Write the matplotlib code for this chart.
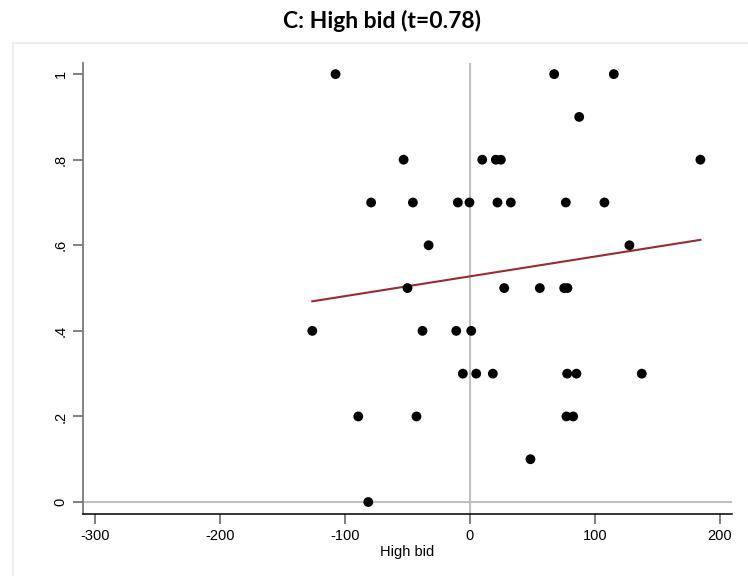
import numpy as np
import matplotlib
matplotlib.use("Agg")
import matplotlib.pyplot as plt
from matplotlib.patches import Rectangle

# High bid deviation vs. share outcome, one dot per session
high_bid = [-107.5, 67.5, 115.2,
            87.5,
            -53.0, 9.9, 20.8, 24.8, 184.5,
            -79.0, -45.6, -9.6, -0.3, 22.1, 32.8, 76.8, 107.7,
            -33.0, 127.7,
            -49.9, 27.5, 56.0, 75.5, 78.1,
            -126.1, -37.9, -10.9, 1.1,
            -5.6, 5.1, 18.4, 77.9, 85.3, 137.6,
            -89.3, -42.7, 77.3, 82.7,
            48.5,
            -81.3]
share = [1.0, 1.0, 1.0,
         0.9,
         0.8, 0.8, 0.8, 0.8, 0.8,
         0.7, 0.7, 0.7, 0.7, 0.7, 0.7, 0.7, 0.7,
         0.6, 0.6,
         0.5, 0.5, 0.5, 0.5, 0.5,
         0.4, 0.4, 0.4, 0.4,
         0.3, 0.3, 0.3, 0.3, 0.3, 0.3,
         0.2, 0.2, 0.2, 0.2,
         0.1,
         0.0]

title = "C: High bid (t=0.78)"
xlabel = "High bid"
xticks = [-300, -200, -100, 0, 100, 200]
yticks = [0, 0.2, 0.4, 0.6, 0.8, 1.0]
yticklabels = ["0", ".2", ".4", ".6", ".8", "1"]

x = np.array(high_bid)
y = np.array(share)

fig = plt.figure(figsize=(7.48, 5.76), dpi=100)
fig.patch.set_facecolor("white")

# light frame around the graph region
fig.patches.append(Rectangle((13 / 748, -0.05), 1.0, 1 - 43 / 576 + 0.05,
                             transform=fig.transFigure, fill=False,
                             edgecolor="#eaeff3", linewidth=1.6, zorder=0))

fig.text(382 / 748, 1 - 21 / 576, title, ha="center", va="center",
         fontsize=16.5, fontweight="bold", family=["Lato", "DejaVu Sans"])

ax = fig.add_axes([83 / 748, 1 - 514 / 576, (731.5 - 83) / 748, (514 - 63) / 576])
ax.set_xlim(-309.6, 209.4)
ax.set_ylim(-0.028, 1.026)

ax.axvline(0, color="#c0c0c0", lw=1.5, zorder=1)
ax.axhline(0, color="#c0c0c0", lw=1.5, zorder=1)

# linear fit over the observed range
slope, intercept = np.polyfit(x, y, 1)
xs = np.array([x.min(), x.max()])
ax.plot(xs, intercept + slope * xs, color="#9a2b30", lw=1.5, zorder=2)

ax.scatter(x, y, s=50, color="black", edgecolors="none", zorder=3)

for side in ("top", "right"):
    ax.spines[side].set_visible(False)
ax.spines["left"].set_color("#7a7a7a")
ax.spines["left"].set_linewidth(1.3)
ax.spines["bottom"].set_color("black")
ax.spines["bottom"].set_linewidth(1.1)

ax.set_xticks(xticks)
ax.set_xticklabels([str(t) for t in xticks])
ax.set_yticks(yticks)
ax.set_yticklabels(yticklabels, rotation=90, va="center")
ax.tick_params(axis="both", length=7, width=1.2, color="#6a6a6a",
               labelsize=10.5, pad=4)
for lab in ax.get_xticklabels() + ax.get_yticklabels():
    lab.set_family(["Liberation Sans", "DejaVu Sans"])

ax.set_xlabel(xlabel, fontsize=10.5, family=["Liberation Sans", "DejaVu Sans"],
              labelpad=1)

fig.savefig("out.png", dpi=100)
